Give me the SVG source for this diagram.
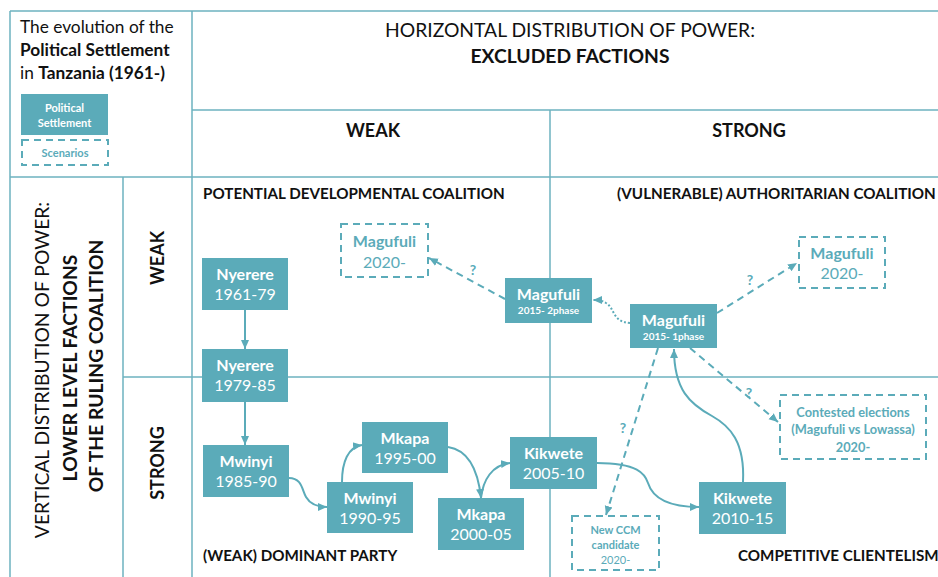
<svg xmlns="http://www.w3.org/2000/svg" width="938" height="577" viewBox="0 0 938 577">
<style>
text{font-family:Lato,"Open Sans","Liberation Sans",sans-serif}
.grid{stroke:#6DB3C0;stroke-width:1.5;fill:none}
.hdr{fill:#111;font-size:18px}
.big{font-size:19.3px}
.b{font-weight:bold}
.sec{fill:#111;font-size:15.2px;font-weight:bold}
.node rect{fill:#5BABB9}
.node text{fill:#fff;text-anchor:middle}
.nm{font-size:16px;font-weight:bold}
.yr{font-size:16px}
.sub{font-size:10px;font-weight:bold}
.scen rect{fill:#fff;stroke:#5BABB9;stroke-width:2;stroke-dasharray:7,5}
.scen text{fill:#5BABB9;text-anchor:middle}
.conn{stroke:#5BABB9;stroke-width:2;fill:none}
.dash{stroke-dasharray:7,5}
.dot{stroke-dasharray:2,2}
.q{fill:#5BABB9;font-size:14px;font-weight:bold;text-anchor:middle}
</style>
<defs>
<marker id="ah" markerUnits="userSpaceOnUse" markerWidth="10" markerHeight="10" refX="9" refY="5" orient="auto">
<path d="M0,1 L9,5 L0,9 z" fill="#5BABB9"/>
</marker>
</defs>
<rect width="938" height="577" fill="#fff"/>
<g id="grid">
<path class="grid" d="M10,11 H938 M10,11 V577 M192,11 V577 M192,110 H938 M550,110 V577 M10,177 H938 M123,177 V577 M123,377 H938"/>
</g>
<g id="headers">
<text x="20" y="33" font-size="17.3" fill="#111">The evolution of the</text>
<text x="20" y="56" font-size="17.3" fill="#111" class="b">Political Settlement</text>
<text x="20" y="79" font-size="17.3" fill="#111">in <tspan class="b">Tanzania (1961-)</tspan></text>
<text x="570" y="37" class="hdr big" text-anchor="middle">HORIZONTAL DISTRIBUTION OF POWER:</text>
<text x="570" y="63" class="hdr big b" text-anchor="middle">EXCLUDED FACTIONS</text>
<text x="373" y="137" class="hdr b" text-anchor="middle">WEAK</text>
<text x="749" y="137" class="hdr b" text-anchor="middle">STRONG</text>
<text transform="translate(49,370) rotate(-90)" class="hdr big" text-anchor="middle">VERTICAL DISTRIBUTION OF POWER:</text>
<text transform="translate(77,368) rotate(-90)" class="hdr big b" text-anchor="middle">LOWER LEVEL FACTIONS</text>
<text transform="translate(103,366) rotate(-90)" class="hdr big b" text-anchor="middle">OF THE RULING COALITION</text>
<text transform="translate(164,258) rotate(-90)" class="hdr b" text-anchor="middle">WEAK</text>
<text transform="translate(164,463) rotate(-90)" class="hdr b" text-anchor="middle">STRONG</text>
<text x="203" y="199" class="sec">POTENTIAL DEVELOPMENTAL COALITION</text>
<text x="617" y="199" class="sec">(VULNERABLE) AUTHORITARIAN COALITION</text>
<text x="203" y="561" class="sec">(WEAK) DOMINANT PARTY</text>
<text x="738" y="561" class="sec">COMPETITIVE CLIENTELISM</text>
</g>
<g id="legend-ps" class="node">
<rect x="21" y="94" width="87" height="41"/>
<text x="64.5" y="112" font-size="11" class="b">Political</text>
<text x="64.5" y="127" font-size="11" class="b">Settlement</text>
</g>
<g id="legend-sc" class="scen">
<rect x="22" y="140" width="86" height="25"/>
<text x="65" y="157" font-size="11" class="b">Scenarios</text>
</g>
<g id="connectors">
<path class="conn" marker-end="url(#ah)" d="M245,310 V349"/>
<path class="conn" marker-end="url(#ah)" d="M245,402 V445"/>
<path class="conn" marker-end="url(#ah)" d="M289,478 C302,478 302,490 306,497 C310,504 316,507 327,507"/>
<path class="conn" marker-end="url(#ah)" d="M342,482 C342,462 348,447 362,445"/>
<path class="conn" marker-end="url(#ah)" d="M448,447 C468,450 478,470 481,498"/>
<path class="conn" marker-end="url(#ah)" d="M481,498 C483,480 492,465 510,463"/>
<path class="conn" marker-end="url(#ah)" d="M597,463 C638,463 645,474 648,483 C652,496 666,507 699,507"/>
<path class="conn" marker-end="url(#ah)" d="M743,482 C745,442 730,426 712,416 C690,404 674,390 674,349"/>
<path class="conn dot" marker-end="url(#ah)" d="M630,323 C612,322 615,308 606,303 C601,300 598,300 593,300"/>
<path class="conn dash" marker-end="url(#ah)" d="M505,299 L429,258"/>
<path class="conn dash" marker-end="url(#ah)" d="M717,313 L797,263"/>
<path class="conn dash" marker-end="url(#ah)" d="M658,348 L606,515"/>
<path class="conn dash" marker-end="url(#ah)" d="M690,348 L778,422"/>
<text x="473" y="275" class="q">?</text>
<text x="750" y="285" class="q">?</text>
<text x="623" y="433" class="q">?</text>
<text x="749" y="398" class="q">?</text>
</g>
<g id="nyerere1" class="node"><rect x="202" y="258" width="86" height="52"/><text x="245" y="280" class="nm">Nyerere</text><text x="245" y="300" class="yr">1961-79</text></g>
<g id="nyerere2" class="node"><rect x="202" y="349" width="86" height="53"/><text x="245" y="371" class="nm">Nyerere</text><text x="245" y="391" class="yr">1979-85</text></g>
<g id="mwinyi1" class="node"><rect x="203" y="445" width="86" height="52"/><text x="246" y="467" class="nm">Mwinyi</text><text x="246" y="487" class="yr">1985-90</text></g>
<g id="mwinyi2" class="node"><rect x="327" y="482" width="86" height="51"/><text x="370" y="504" class="nm">Mwinyi</text><text x="370" y="524" class="yr">1990-95</text></g>
<g id="mkapa1" class="node"><rect x="362" y="422" width="86" height="51"/><text x="405" y="444" class="nm">Mkapa</text><text x="405" y="464" class="yr">1995-00</text></g>
<g id="mkapa2" class="node"><rect x="438" y="498" width="86" height="52"/><text x="481" y="520" class="nm">Mkapa</text><text x="481" y="540" class="yr">2000-05</text></g>
<g id="kikwete1" class="node"><rect x="510" y="437" width="87" height="52"/><text x="553.5" y="459" class="nm">Kikwete</text><text x="553.5" y="479" class="yr">2005-10</text></g>
<g id="kikwete2" class="node"><rect x="699" y="482" width="87" height="52"/><text x="742.5" y="504" class="nm">Kikwete</text><text x="742.5" y="524" class="yr">2010-15</text></g>
<g id="magufuli-1phase" class="node"><rect x="630" y="304" width="87" height="44"/><text x="673.5" y="326" class="nm">Magufuli</text><text x="673.5" y="340" class="sub">2015- 1phase</text></g>
<g id="magufuli-2phase" class="node"><rect x="505" y="278" width="87" height="45"/><text x="548.5" y="300" class="nm">Magufuli</text><text x="548.5" y="314" class="sub">2015- 2phase</text></g>
<g id="magufuli-2020-left" class="scen"><rect x="341" y="224" width="87" height="53"/><text x="384.5" y="247" class="nm">Magufuli</text><text x="384.5" y="268" class="yr">2020-</text></g>
<g id="magufuli-2020-right" class="scen"><rect x="799" y="237" width="86" height="51"/><text x="842" y="259" class="nm">Magufuli</text><text x="842" y="279" class="yr">2020-</text></g>
<g id="contested" class="scen"><rect x="780" y="395" width="146" height="64"/><text x="853" y="417" font-size="12.8" class="b">Contested elections</text><text x="853" y="434" font-size="12.8" class="b">(Magufuli vs Lowassa)</text><text x="853" y="452" font-size="12.8" class="b">2020-</text></g>
<g id="new-ccm" class="scen"><rect x="572" y="516" width="87" height="54"/><text x="615.5" y="534" font-size="11" class="b">New CCM</text><text x="615.5" y="549" font-size="11" class="b">candidate</text><text x="615.5" y="564" font-size="11">2020-</text></g>
</svg>
